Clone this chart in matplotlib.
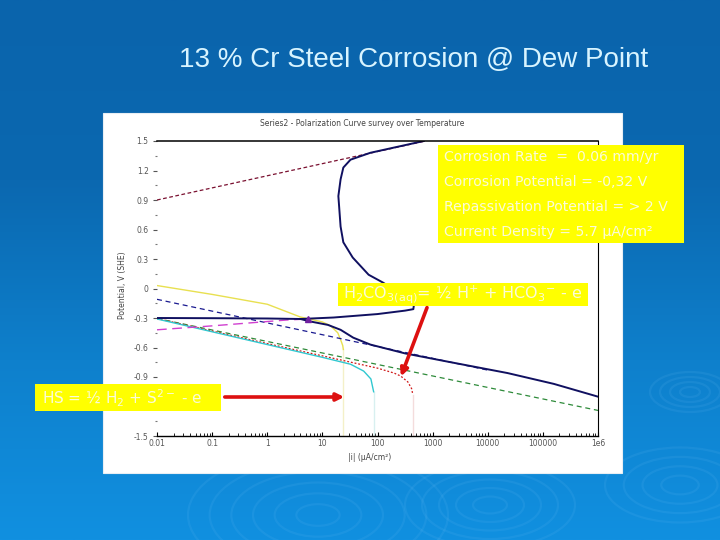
"""13 % Cr steel corrosion @ dew point - polarization curve slide."""

import matplotlib

matplotlib.use("Agg")
import matplotlib.pyplot as plt
import numpy as np
from matplotlib.colors import LinearSegmentedColormap
from matplotlib.patches import Ellipse, FancyArrowPatch, Rectangle
from matplotlib.ticker import FixedLocator, LogLocator, NullFormatter

# ---- data (current density in uA/cm2, potential in V vs SHE) ----
# total curve, anodic branch (active peak -> passive -> transpassive)
anod_i = [0.01, 0.1, 1.0, 4.0, 16.0, 100.0, 316.0, 447.0, 457.0, 250.0, 126.0,
          69.0, 35.5, 24.0, 21.4, 19.5, 21.4, 24.0, 32.4, 74.0, 692.0]
anod_e = [-0.300, -0.302, -0.305, -0.31, -0.295, -0.26, -0.225, -0.21, -0.17,
          -0.05, 0.06, 0.14, 0.315, 0.47, 0.63, 0.94, 1.11, 1.23, 1.31, 1.38, 1.50]
# total curve, cathodic branch
cath_i = [4.0, 6.0, 12.6, 21.4, 36.3, 74.0, 316.0, 2140.0, 22900.0, 158000.0, 1000000.0]
cath_e = [-0.31, -0.335, -0.37, -0.42, -0.50, -0.57, -0.66, -0.75, -0.86, -0.97, -1.10]
# partial reactions
ox_i = [0.01, 741.0]            # oxygen evolution (dark red dashed)
ox_e = [0.90, 1.50]
fe_i = [0.01, 10000.0]          # navy dashed
fe_e = [-0.11, -0.83]
h2o_i = [0.01, 1000000.0]       # water reduction (green dashed)
h2o_e = [-0.305, -1.24]
hs_i = [0.01, 0.1, 1.0, 4.0, 10.0, 14.1, 19.0, 21.4, 23.4, 24.0]   # yellow
hs_e = [0.03, -0.06, -0.16, -0.29, -0.34, -0.38, -0.45, -0.52, -0.58, -0.62]
co2_i = [0.01, 1.0, 10.0, 100.0, 200.0, 263.0, 355.0, 417.0, 437.0]  # red dotted
co2_e = [-0.305, -0.56, -0.685, -0.81, -0.86, -0.89, -0.95, -1.02, -1.08]
h_i = [0.01, 1.0, 10.0, 32.4, 56.2, 75.9, 85.1]                     # cyan
h_e = [-0.31, -0.57, -0.70, -0.77, -0.84, -0.92, -1.05]
mg_i = [0.01, 0.1, 2.3, 5.6]                                        # magenta
mg_e = [-0.42, -0.38, -0.32, -0.31]
marker_i = [5.6]
marker_e = [-0.315]
limits = [24.0, 85.1, 437.0]
limit_tops = [-0.62, -1.05, -1.08]
limit_cols = ["#f4f0c8", "#d8f0f0", "#f4dcdc"]

yticks = [1.5, 1.2, 0.9, 0.6, 0.3, 0, -0.3, -0.6, -0.9, -1.2, -1.5]
# the -1.2 label sits under the HS box on the slide
ytick_labels = ["1.5", "1.2", "0.9", "0.6", "0.3", "0", "-0.3", "-0.6", "-0.9", "", "-1.5"]
xticks = [0.01, 0.1, 1, 10, 100, 1000, 10000, 100000, 1000000]
xtick_labels = ["0.01", "0.1", "1", "10", "100", "1000", "10000", "100000", "1e6"]

info_lines = [
    "Corrosion Rate  =  0.06 mm/yr",
    "Corrosion Potential = -0,32 V",
    "Repassivation Potential = > 2 V",
    "Current Density = 5.7 \u00b5A/cm\u00b2",
]

W, H = 720, 540
fig = plt.figure(figsize=(7.2, 5.4), dpi=100)


def fx(px):
    return px / W


def fy(py):
    return 1 - py / H


# background gradient with ripples
bg = fig.add_axes([0, 0, 1, 1])
bg.set_zorder(-2)
cmap = LinearSegmentedColormap.from_list("slide", ["#0a64ac", "#0b68b0", "#0e80cc", "#1190e0"])
grad = np.linspace(0, 1, 256).reshape(-1, 1)
bg.imshow(grad, aspect="auto", cmap=cmap, extent=[0, W, H, 0])
for cx, cy, rmax, n in [(690, 392, 80, 4), (318, 515, 260, 6), (490, 505, 170, 5), (680, 485, 150, 4)]:
    for r in np.linspace(rmax / n, rmax, n):
        bg.add_patch(Ellipse((cx, cy), r, r * 0.5, fill=False, ec="#8fd0ff", lw=1.6, alpha=0.09))
bg.set_xlim(0, W)
bg.set_ylim(H, 0)
bg.axis("off")

fig.text(fx(414), fy(60), "13 % Cr Steel Corrosion @ Dew Point", ha="center", va="center",
         fontsize=20, color="#d8f4ff", family="Liberation Sans")

# white chart panel
fig.add_artist(Rectangle((fx(103), fy(473)), fx(519), 360 / H, transform=fig.transFigure,
                         facecolor="white", edgecolor="#e8eef4", lw=0.8, zorder=-1))

ax = fig.add_axes([fx(157), fy(436), fx(441), 295 / H])
ax.set_xscale("log")
ax.set_xlim(0.01, 1000000)
ax.set_ylim(-1.5, 1.5)

for xi, top, c in zip(limits, limit_tops, limit_cols):
    ax.plot([xi, xi], [top, -1.5], color=c, lw=1.0)
ax.plot(ox_i, ox_e, color="#7a1030", lw=0.9, ls=(0, (3, 2)))
ax.plot(h2o_i, h2o_e, color="#2e8b3a", lw=0.9, ls=(0, (4, 3)))
ax.plot(co2_i, co2_e, color="#d01818", lw=0.9, ls=(0, (1.5, 1.5)))
ax.plot(h_i, h_e, color="#30c8d0", lw=1.0)
ax.plot(hs_i, hs_e, color="#e8e050", lw=1.0)
ax.plot(fe_i, fe_e, color="#1a1a90", lw=0.9, ls=(0, (4, 3)))
ax.plot(mg_i, mg_e, color="#d040d0", lw=1.0, ls=(0, (7, 4)))
ax.plot(anod_i, anod_e, color="#101060", lw=1.4)
ax.plot(cath_i, cath_e, color="#101060", lw=1.4)
ax.plot(marker_i, marker_e, marker="^", color="#7020a0", ms=4, ls="none")

for s in ["top", "right", "bottom"]:
    ax.spines[s].set_color("black")
ax.spines["left"].set_visible(False)
ax.spines["top"].set_linewidth(1.1)
ax.spines["right"].set_linewidth(0.8)
ax.spines["bottom"].set_linewidth(1.0)

ax.set_yticks(yticks)
ax.set_yticklabels(ytick_labels)
ax.yaxis.set_minor_locator(FixedLocator(np.arange(-1.35, 1.5, 0.3)))
ax.tick_params(axis="y", which="major", direction="out", length=3, width=0.8,
               labelsize=5.5, labelcolor="#555555", color="#555555", pad=3)
ax.tick_params(axis="y", which="minor", direction="out", length=1.5, width=0.8, color="#777777")
ax.set_xticks(xticks)
ax.set_xticklabels(xtick_labels)
ax.xaxis.set_minor_locator(LogLocator(base=10, subs=np.arange(2, 10)))
ax.xaxis.set_minor_formatter(NullFormatter())
ax.tick_params(axis="x", which="major", direction="in", length=3, width=0.8,
               labelsize=5.5, labelcolor="#555555", pad=2)
ax.tick_params(axis="x", which="minor", direction="in", length=2, width=0.6)

fig.text(fx(362), fy(123), "Series2 - Polarization Curve survey over Temperature",
         ha="center", va="center", fontsize=5.5, color="#444444")
fig.text(fx(123), fy(285), "Potential, V (SHE)", rotation=90, ha="center", va="center",
         fontsize=5.5, color="#444444")
fig.text(fx(370), fy(457), "|i| (\u00b5A/cm\u00b2)", ha="center", va="center",
         fontsize=5.5, color="#444444")

# yellow annotation boxes
yellow = "#ffff00"
txt_col = "#fbfbd8"
fig.add_artist(Rectangle((fx(438), fy(243)), fx(246), 98 / H, transform=fig.transFigure,
                         facecolor=yellow, edgecolor="none", zorder=5))
for k, line in enumerate(info_lines):
    fig.text(fx(444), fy(157 + 25 * k), line, ha="left", va="center", fontsize=10.1,
             color=txt_col, zorder=6)

fig.add_artist(Rectangle((fx(338), fy(306)), fx(250), 23 / H, transform=fig.transFigure,
                         facecolor=yellow, edgecolor="none", zorder=5))
fig.text(fx(343), fy(294),
         "H$_2$CO$_{\\mathrm{3(aq)}}$= \u00bd H$^{+}$ + HCO$_3$$^{-}$ - e",
         ha="left", va="center", fontsize=11.5, color=txt_col, zorder=6)

fig.add_artist(Rectangle((fx(35), fy(411)), fx(186), 27 / H, transform=fig.transFigure,
                         facecolor=yellow, edgecolor="none", zorder=5))
fig.text(fx(42), fy(398), "HS = \u00bd H$_2$ + S$^{2-}$ - e", ha="left", va="center",
         fontsize=11, color=txt_col, zorder=6)

# red arrows
for (x0, y0), (x1, y1) in [((428, 305), (400, 379)), ((222, 397), (347, 397))]:
    fig.add_artist(FancyArrowPatch((fx(x0), fy(y0)), (fx(x1), fy(y1)), transform=fig.transFigure,
                                   arrowstyle="-|>", mutation_scale=11, color="#dd1010",
                                   lw=2.6, zorder=6))

fig.savefig("out.png", dpi=100)
